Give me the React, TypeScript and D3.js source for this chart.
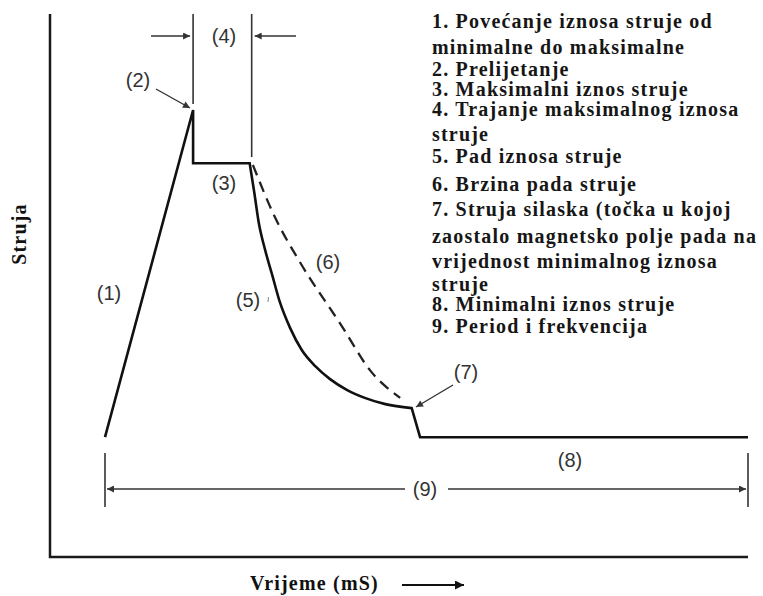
import * as d3 from "d3";

// waveform pieces: time (arbitrary units) vs current (% of peak)
const riseTime = [0, 13.7, 13.7, 22.5];
const riseCurrent = [26.8, 100, 88.1, 88.1];
const decayTime = [22.5, 23.2, 23.9, 24.9, 26.0, 27.2, 28.8, 30.6, 32.7, 35.0, 37.6, 40.4, 43.6, 47.7];
const decayCurrent = [88.1, 81.7, 74.9, 68.7, 63.1, 57.0, 51.2, 46.3, 42.7, 39.8, 37.4, 35.6, 34.2, 33.3];
const tailTime = [47.7, 49.0, 100];
const tailCurrent = [33.3, 26.8, 26.8];
const slopeTime = [23.0, 26.4, 30.3, 36.9, 41.2, 45.9];
const slopeCurrent = [87.7, 76.1, 66.0, 51.5, 41.8, 35.6];

const legendLines = [
  "1. Povećanje iznosa struje od",
  "minimalne do maksimalne",
  "2. Prelijetanje",
  "3. Maksimalni iznos struje",
  "4. Trajanje maksimalnog iznosa",
  "struje",
  "5. Pad iznosa struje",
  "6. Brzina pada struje",
  "7. Struja silaska (točka u kojoj",
  "zaostalo magnetsko polje pada na",
  "vrijednost minimalnog iznosa",
  "struje",
  "8. Minimalni iznos struje",
  "9. Period i frekvencija",
];

const W = 763;
const H = 596;

export default function App() {
  const x = d3.scaleLinear().domain([0, 100]).range([105, 748]);
  const y = d3.scaleLinear().domain([0, 100]).range([557, 110]);

  const zip = (ts: number[], cs: number[]) => ts.map((t, i) => [t, cs[i]] as [number, number]);
  const lin = d3.line<[number, number]>().x(d => x(d[0])).y(d => y(d[1]));
  const smooth = d3.line<[number, number]>().x(d => x(d[0])).y(d => y(d[1])).curve(d3.curveMonotoneX);

  const wave =
    (lin(zip(riseTime, riseCurrent)) || "") +
    (smooth(zip(decayTime, decayCurrent)) || "").replace(/^M/, "L") +
    (lin(zip(tailTime, tailCurrent)) || "").replace(/^M/, "L");

  // line offsets of the legend block (irregular, as in the scan)
  const legendY = [28, 54, 76, 96, 116, 141, 163, 191, 216, 243, 268, 291, 311, 333];

  const serif = "'Liberation Serif', 'Times New Roman', serif";
  const sans = "'Liberation Sans', Arial, sans-serif";
  const grey = "#333";
  const lblStyle = { fontFamily: sans, fontSize: 20, fill: grey } as const;

  const xPeak = x(riseTime[1]);
  const xEnd = x(riseTime[3]);

  return (
    <svg width={W} height={H} style={{ position: "absolute", left: 0, top: 0, background: "#fff" }}>
      <defs>
        <marker id="ah" viewBox="0 0 10 10" refX="10" refY="5" markerWidth="9" markerHeight="7"
          markerUnits="userSpaceOnUse" orient="auto">
          <path d="M0,0L10,5L0,10z" fill={grey} />
        </marker>
        <marker id="ahBig" viewBox="0 0 10 10" refX="10" refY="5" markerWidth="14" markerHeight="9"
          markerUnits="userSpaceOnUse" orient="auto">
          <path d="M0,0L10,5L0,10z" fill="#111" />
        </marker>
      </defs>

      {/* axes frame */}
      <path d="M50,14V557H748" fill="none" stroke="#1a1a1a" strokeWidth={2.5} />

      {/* waveform */}
      <path d={wave} fill="none" stroke="#111" strokeWidth={2.6} strokeLinejoin="miter" />
      <path d={smooth(zip(slopeTime, slopeCurrent)) || ""} fill="none" stroke="#222" strokeWidth={2.3}
        strokeDasharray="11,7" />

      {/* (4) duration markers */}
      <line x1={xPeak} x2={xPeak} y1={14} y2={104} stroke={grey} strokeWidth={1.6} />
      <line x1={xEnd + 2} x2={xEnd + 2} y1={14} y2={157} stroke={grey} strokeWidth={1.6} />
      <line x1={151} x2={xPeak - 3} y1={36} y2={36} stroke={grey} strokeWidth={1.4} markerEnd="url(#ah)" />
      <line x1={296} x2={xEnd + 5} y1={36} y2={36} stroke={grey} strokeWidth={1.4} markerEnd="url(#ah)" />
      <text x={224} y={43} textAnchor="middle" style={lblStyle}>(4)</text>

      {/* (2) overshoot */}
      <text x={138} y={87} textAnchor="middle" style={lblStyle}>(2)</text>
      <line x1={156} x2={190} y1={89} y2={108} stroke={grey} strokeWidth={1.4} markerEnd="url(#ah)" />

      <text x={224} y={190} textAnchor="middle" style={lblStyle}>(3)</text>
      <text x={109} y={300} textAnchor="middle" style={lblStyle}>(1)</text>
      <text x={248} y={307} textAnchor="middle" style={lblStyle}>(5)</text>
      <line x1={268.5} x2={268} y1={297} y2={302} stroke="#888" strokeWidth={1} />
      <text x={328} y={269} textAnchor="middle" style={lblStyle}>(6)</text>

      {/* (7) */}
      <text x={466} y={379} textAnchor="middle" style={lblStyle}>(7)</text>
      <line x1={453} x2={416} y1={385} y2={407} stroke={grey} strokeWidth={1.4} markerEnd="url(#ah)" />

      <text x={570} y={467} textAnchor="middle" style={lblStyle}>(8)</text>

      {/* (9) period */}
      <line x1={x(0)} x2={x(0)} y1={453} y2={507} stroke={grey} strokeWidth={1.6} />
      <line x1={x(100)} x2={x(100)} y1={453} y2={507} stroke={grey} strokeWidth={1.6} />
      <line x1={405} x2={x(0) + 2} y1={489} y2={489} stroke={grey} strokeWidth={1.4} markerEnd="url(#ah)" />
      <line x1={448} x2={x(100) - 2} y1={489} y2={489} stroke={grey} strokeWidth={1.4} markerEnd="url(#ah)" />
      <text x={425} y={496} textAnchor="middle" style={lblStyle}>(9)</text>

      {/* axis titles */}
      <text transform="translate(26,234) rotate(-90)" textAnchor="middle"
        style={{ fontFamily: serif, fontWeight: "bold", fontSize: 20, letterSpacing: 1.2, fill: "#111" }}>
        Struja
      </text>
      <text x={250} y={590}
        style={{ fontFamily: serif, fontWeight: "bold", fontSize: 20, letterSpacing: 1.2, fill: "#111" }}>
        Vrijeme (mS)
      </text>
      <line x1={402} x2={464} y1={585} y2={585} stroke="#111" strokeWidth={2} markerEnd="url(#ahBig)" />

      {/* legend */}
      <g style={{ fontFamily: serif, fontWeight: "bold", fontSize: 20, letterSpacing: 1.2, fill: "#161616" }}>
        {legendLines.map((s, i) => (
          <text key={i} x={432} y={legendY[i]}>{s}</text>
        ))}
      </g>
    </svg>
  );
}
